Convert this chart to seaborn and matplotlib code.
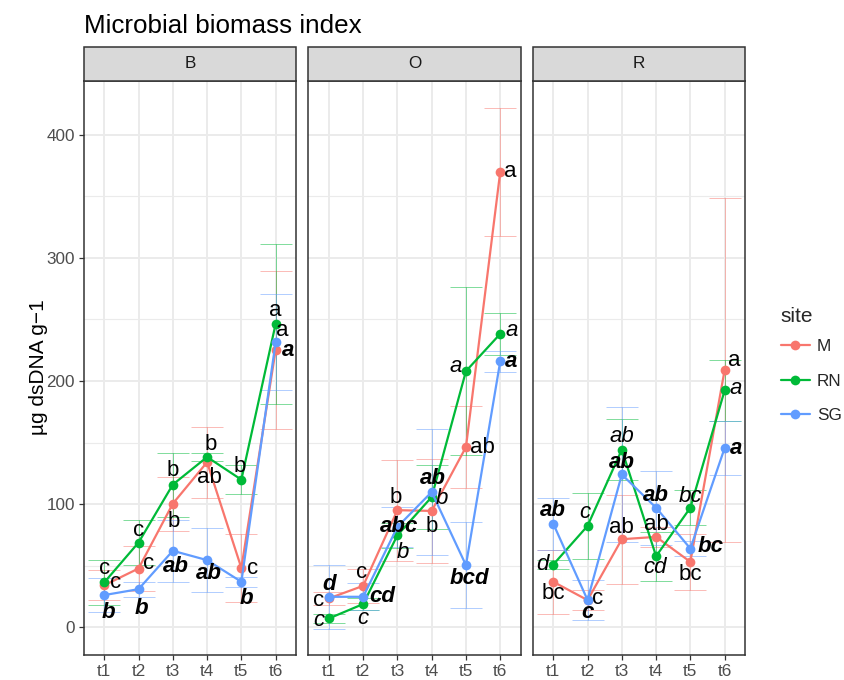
import numpy as np
import pandas as pd
import matplotlib
matplotlib.use("Agg")
import matplotlib.pyplot as plt
from matplotlib.patches import Rectangle
from matplotlib.lines import Line2D
import seaborn as sns

# ---------------- data ----------------
times = ["t1", "t2", "t3", "t4", "t5", "t6"]
panels = ["B", "O", "R"]
sites = ["M", "RN", "SG"]

# means
B_M = [34, 47.6, 100.3, 134, 48, 225.3]
B_RN = [36.3, 68.7, 115.8, 138.2, 119.8, 246.4]
B_SG = [26, 30.8, 62, 54.4, 36.8, 231.5]
O_M = [23.3, 33.5, 95, 94.4, 146.3, 370]
O_RN = [7, 18.7, 74.6, 105.7, 208, 238.3]
O_SG = [24.6, 24.6, 81.4, 109.8, 50.3, 216]
R_M = [36.8, 21.9, 71.4, 73.3, 53, 209]
R_RN = [50.8, 82.2, 144.2, 57.6, 97, 192.3]
R_SG = [84, 22, 124, 97, 63.8, 145.5]

# error half-widths
B_M_err = [12, 18, 22, 29, 28, 64]
B_RN_err = [18, 18, 26, 3, 12, 65]
B_SG_err = [14, 6, 25, 26, 4, 39]
O_M_err = [5, 14, 41, 42, 33, 52]
O_RN_err = [4, 5, 10, 26, 68, 17]
O_SG_err = [26, 11, 16, 51, 35, 8.5]
R_M_err = [26, 8, 36, 8, 23, 140]
R_RN_err = [4, 27, 25, 20, 14, 25]
R_SG_err = [21, 16, 55, 30, 6, 22]

# significance letters
B_M_lab = ["c", "c", "b", "ab", "c", "a"]
B_RN_lab = ["c", "c", "b", "b", "b", "a"]
B_SG_lab = ["b", "b", "ab", "ab", "b", "a"]
O_M_lab = ["c", "c", "b", "b", "ab", "a"]
O_RN_lab = ["c", "c", "b", "b", "a", "a"]
O_SG_lab = ["d", "cd", "abc", "ab", "bcd", "a"]
R_M_lab = ["bc", "c", "ab", "ab", "bc", "a"]
R_RN_lab = ["d", "c", "ab", "cd", "bc", "a"]
R_SG_lab = ["ab", "c", "ab", "ab", "bc", "a"]

means = {("B", "M"): B_M, ("B", "RN"): B_RN, ("B", "SG"): B_SG,
         ("O", "M"): O_M, ("O", "RN"): O_RN, ("O", "SG"): O_SG,
         ("R", "M"): R_M, ("R", "RN"): R_RN, ("R", "SG"): R_SG}
errs = {("B", "M"): B_M_err, ("B", "RN"): B_RN_err, ("B", "SG"): B_SG_err,
        ("O", "M"): O_M_err, ("O", "RN"): O_RN_err, ("O", "SG"): O_SG_err,
        ("R", "M"): R_M_err, ("R", "RN"): R_RN_err, ("R", "SG"): R_SG_err}
labs = {("B", "M"): B_M_lab, ("B", "RN"): B_RN_lab, ("B", "SG"): B_SG_lab,
        ("O", "M"): O_M_lab, ("O", "RN"): O_RN_lab, ("O", "SG"): O_SG_lab,
        ("R", "M"): R_M_lab, ("R", "RN"): R_RN_lab, ("R", "SG"): R_SG_lab}

# label offsets (pixels, dx right, dy up) -- styling only
offs = {
    ("B", "M"): [(11, 3), (10, 5), (1, -18), (2, -15), (11, 0), (7, 19)],
    ("B", "RN"): [(0, 14), (0, 12), (0, 14), (4, 13), (-2, 13), (0, 13)],
    ("B", "SG"): [(4, -17), (3, -19), (3, -16), (2, -13), (5, -17), (12, -8)],
    ("O", "M"): [(-10, -2), (-2, 13), (-2, 13), (0, -16), (16, 0), (10, 0)],
    ("O", "RN"): [(-10, -2), (0, -14), (5, -17), (10, -1), (-10, 5), (11, 3)],
    ("O", "SG"): [(0, 12), (19, 0), (2, 0), (1, 13), (3, -13), (11, 0)],
    ("R", "M"): [(0, -12), (10, 2), (0, 12), (0, 12), (0, -13), (10, 9)],
    ("R", "RN"): [(-11, 0), (-3, 13), (0, 13), (-1, -11), (0, 11), (11, 2)],
    ("R", "SG"): [(0, 13), (0, -13), (0, 12), (0, 12), (20, 2), (11, 0)],
}
styles = {
    "B": {"M": ("normal", "normal"), "RN": ("normal", "normal"), "SG": ("italic", "bold")},
    "O": {"M": ("normal", "normal"), "RN": ("italic", "normal"), "SG": ("italic", "bold")},
    "R": {"M": ("normal", "normal"), "RN": ("italic", "normal"), "SG": ("italic", "bold")},
}

palette = {"M": "#F8766D", "RN": "#00BA38", "SG": "#619CFF"}

rows = []
for p in panels:
    for s in sites:
        for i, t in enumerate(times):
            rows.append({"panel": p, "site": s, "time": t, "pos": i + 1,
                         "value": means[(p, s)][i], "err": errs[(p, s)][i]})
df = pd.DataFrame(rows)

# ---------------- figure ----------------
sns.set_theme(style="white")
plt.rcParams["font.family"] = ["Liberation Sans", "DejaVu Sans"]

W, H = 845, 680
fig = plt.figure(figsize=(W / 100, H / 100), dpi=100)

def fx(px):
    return px / W

def fy(py):
    return 1 - py / H

panel_left = [83.7, 308.3, 532.7]
panel_w = 212.5
top_px, bot_px = 81, 655
strip_top = 46.7
px2pt = 0.72

for k, p in enumerate(panels):
    ax = fig.add_axes([fx(panel_left[k]), fy(bot_px), panel_w / W, (bot_px - top_px) / H])
    sub = df[df.panel == p]
    ax.set_xlim(0.4, 6.6)
    ax.set_ylim(-22.7, 443.8)
    ax.set_yticks([0, 100, 200, 300, 400])
    ax.set_yticks([50, 150, 250, 350], minor=True)
    ax.set_xticks(range(1, 7))
    ax.set_xticklabels(times)
    ax.grid(True, which="major", color="#EBEBEB", linewidth=1.4, zorder=0)
    ax.grid(True, which="minor", axis="y", color="#EBEBEB", linewidth=0.8, zorder=0)
    ax.set_axisbelow(True)
    for sp in ax.spines.values():
        sp.set_color("#333333")
        sp.set_linewidth(1.1)
    ax.tick_params(axis="x", which="major", length=3.7, width=0.9, color="#333333",
                   labelsize=12.3, labelcolor="#4D4D4D", pad=2.5, bottom=True)
    ax.tick_params(axis="y", which="minor", length=0, left=False)
    if k == 0:
        ax.tick_params(axis="y", which="major", length=3.7, width=0.9, color="#333333",
                       labelsize=12.3, labelcolor="#4D4D4D", pad=2.5, left=True)
    else:
        ax.tick_params(axis="y", which="major", length=0, left=False, labelleft=False)

    for s in sites:
        ss = sub[sub.site == s]
        ax.errorbar(ss["pos"], ss["value"], yerr=ss["err"], fmt="none",
                    ecolor=palette[s], alpha=0.5, elinewidth=0.7, capsize=11.5,
                    capthick=0.7, zorder=2)

    sns.lineplot(data=sub, x="pos", y="value", hue="site", hue_order=sites,
                 palette=palette, marker="o", markersize=7, markeredgewidth=0,
                 linewidth=1.6, legend=False, ax=ax, zorder=3)

    for s in sites:
        fs, fw = styles[p][s]
        for i in range(6):
            dx, dy = offs[(p, s)][i]
            ax.annotate(labs[(p, s)][i], xy=(i + 1, means[(p, s)][i]),
                        xytext=(dx * px2pt, dy * px2pt), textcoords="offset points",
                        ha="center", va="center", fontsize=16, fontstyle=fs,
                        fontweight=fw, color="black", zorder=5)

    ax.set_xlabel("")
    ax.set_ylabel("")

    strip_h = (top_px - strip_top) / (bot_px - top_px)
    ax.add_patch(Rectangle((0, 1), 1, strip_h, transform=ax.transAxes, clip_on=False,
                           facecolor="#D9D9D9", edgecolor="#333333", linewidth=1.1,
                           zorder=6))
    ax.text(0.5, 1 + strip_h / 2, p, transform=ax.transAxes, ha="center", va="center",
            fontsize=12.3, color="#1A1A1A", zorder=7)

fig.text(fx(84), fy(32.7), "Microbial biomass index", fontsize=18.7, color="black",
         ha="left", va="baseline")
fig.text(fx(39), fy(367), "µg dsDNA g−1", rotation=90, fontsize=15, ha="center",
         va="center", color="black")

handles = [Line2D([0], [0], color=palette[s], marker="o", markersize=7,
                  markeredgewidth=0, linewidth=1.6) for s in sites]
leg = fig.legend(handles, sites, title="site", loc="upper left",
                 bbox_to_anchor=(fx(774), fy(300)), frameon=False, fontsize=12.3,
                 title_fontsize=15, handlelength=1.7, labelspacing=1.15,
                 handletextpad=0.4, borderaxespad=0)
leg._legend_box.align = "left"
leg._legend_box.sep = 9.5

fig.savefig("out.png", dpi=100)
